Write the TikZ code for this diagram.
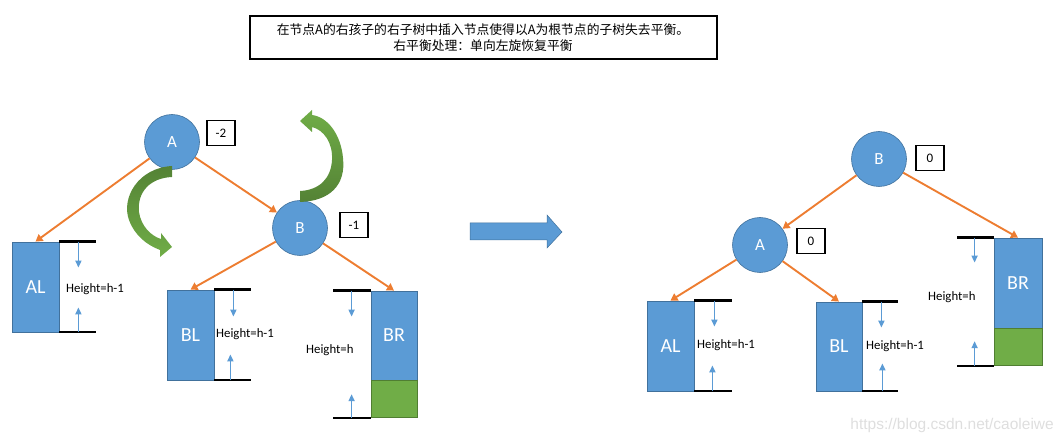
\documentclass[tikz,border=0pt]{standalone}
\usepackage{fontspec}
\setmainfont{Carlito}
\newfontfamily\cjk{Noto Sans CJK SC}
\newfontfamily\wmfont{Liberation Sans}
\usetikzlibrary{arrows.meta}
\definecolor{nblue}{HTML}{5B9BD5}
\definecolor{nbord}{HTML}{41719C}
\definecolor{eorange}{HTML}{ED7D31}
\definecolor{glight}{HTML}{70AD47}
\definecolor{gdark}{HTML}{548235}
\definecolor{gbord}{HTML}{507E32}
\tikzset{
  tnode/.style={circle, fill=nblue, draw=nbord, line width=0.6pt, minimum size=55pt, inner sep=0pt, text=white, font=\fontsize{17}{19}\selectfont},
  bfbox/.style={draw=black, line width=1.9pt, minimum width=28pt, minimum height=25pt, inner sep=0pt, font=\fontsize{13}{15}\selectfont},
  subtree/.style={rectangle, fill=nblue, draw=nbord, line width=0.8pt, inner sep=0pt, text=white, font=\fontsize{20}{22}\selectfont},
  grn/.style={rectangle, fill=glight, draw=gbord, line width=0.8pt, inner sep=0pt},
  edge/.style={draw=eorange, line width=1.9pt, -{Triangle[width=8pt,length=7pt]}},
  hline/.style={line width=2.2pt, black},
  harrow/.style={nblue, line width=1.7pt, -{Triangle[width=6pt,length=7pt]}},
  hlabel/.style={anchor=west, font=\fontsize{12.8}{14}\selectfont, inner sep=0pt},
}
\begin{document}
\begin{tikzpicture}[x=1pt,y=-1pt]
\useasboundingbox (0,0) rectangle (1063,443);

% title
\node[draw=black, line width=2pt, minimum width=467pt, minimum height=43pt, inner sep=0pt, align=center, font=\cjk\fontsize{12.8}{16}\selectfont] (title) at (483,38)
  {在节点A的右孩子的右子树中插入节点使得以A为根节点的子树失去平衡。\\右平衡处理：单向左旋恢复平衡};

% ---------- left tree ----------
\node[tnode] (A1) at (172,142) {A};
\node[bfbox] (bA1) at (221,133) {-2};
\node[tnode] (B1) at (300,228) {B};
\node[bfbox] (bB1) at (354,225) {-1};

\node[subtree, minimum width=47pt, minimum height=90pt] (AL1) at (35.5,287) {AL};
\node[subtree, minimum width=47pt, minimum height=90pt] (BL1) at (190.5,335) {BL};
\node[subtree, minimum width=46pt, minimum height=89pt] (BR1) at (394,335.5) {BR};
\node[grn, anchor=north, minimum width=46pt, minimum height=37pt] (G1) at (BR1.south) {};

\draw[edge] (A1) -- (AL1.north);
\draw[edge] (A1) -- (B1);
\draw[edge] (B1) -- (BL1.north);
\draw[edge] (B1) -- (BR1.north);

% heights left
\draw[hline] (AL1.north east) -- ++(37,0);
\draw[hline] (AL1.south east) -- ++(37,0);
\draw[harrow] ([xshift=19pt]AL1.north east) -- ++(0,26);
\draw[harrow] ([xshift=19pt]AL1.south east) -- ++(0,-25);
\node[hlabel] (hAL1) at (66,289) {Height=h-1};

\draw[hline] (BL1.north east) -- ++(37,0);
\draw[hline] (BL1.south east) -- ++(37,0);
\draw[harrow] ([xshift=19pt]BL1.north east) -- ++(0,27);
\draw[harrow] ([xshift=16pt]BL1.south east) -- ++(0,-26);
\node[hlabel] (hBL1) at (216,334) {Height=h-1};

\draw[hline] (BR1.north west) -- ++(-38,0);
\draw[hline] (G1.south west) -- ++(-38,0);
\draw[harrow] ([xshift=-19pt]BR1.north west) -- ++(0,26);
\draw[harrow] ([xshift=-19pt]G1.south west) -- ++(0,-24);
\node[hlabel] (hBR1) at (306,350) {Height=h};

% curved green arrows
\shade[top color=gdark, bottom color=glight]
  (172,166) .. controls (138,168) and (121,198) .. (129,220)
  .. controls (135,236) and (147,245) .. (160,250)
  -- (160,257) -- (172,247) -- (161,233) -- (161,239)
  .. controls (151,236) and (141,226) .. (139,212)
  .. controls (137,192) and (150,178) .. (172,177) -- cycle;
\shade[top color=glight, bottom color=gdark]
  (300,202) .. controls (330,201) and (346,185) .. (343,158)
  .. controls (341,135) and (328,117) .. (312,115)
  -- (312,110) -- (300,121) -- (312,132) -- (312,127)
  .. controls (324,130) and (333,143) .. (332,160)
  .. controls (331,178) and (320,190) .. (300,191) -- cycle;

% big arrow
\draw[fill=nblue, draw=nbord, line width=0.5pt] (470,223) -- (547,223) -- (547,215) -- (562,232) -- (547,248) -- (547,240) -- (470,240) -- cycle;

% ---------- right tree ----------
\node[tnode] (B2) at (879,159) {B};
\node[bfbox] (bB2) at (930,158) {0};
\node[tnode] (A2) at (760,245) {A};
\node[bfbox] (bA2) at (811,241) {0};

\node[subtree, minimum width=47pt, minimum height=90pt] (AL2) at (670.5,346) {AL};
\node[subtree, minimum width=46pt, minimum height=89pt] (BL2) at (839,346.5) {BL};
\node[subtree, minimum width=48pt, minimum height=90pt] (BR2) at (1018,283) {BR};
\node[grn, anchor=north, minimum width=48pt, minimum height=37pt] (G2) at (BR2.south) {};

\draw[edge] (B2) -- (A2);
\draw[edge] (B2) -- (BR2.north);
\draw[edge] (A2) -- (AL2.north);
\draw[edge] (A2) -- (BL2.north);

\draw[hline] (AL2.north east) -- ++(38,0);
\draw[hline] (AL2.south east) -- ++(38,0);
\draw[harrow] ([xshift=20pt]AL2.north east) -- ++(0,26);
\draw[harrow] ([xshift=18pt]AL2.south east) -- ++(0,-26);
\node[hlabel] (hAL2) at (697,345) {Height=h-1};

\draw[hline] (BL2.north east) -- ++(36,0);
\draw[hline] (BL2.south east) -- ++(36,0);
\draw[harrow] ([xshift=19pt]BL2.north east) -- ++(0,26);
\draw[harrow] ([xshift=20pt]BL2.south east) -- ++(0,-28);
\node[hlabel] (hBL2) at (866,346) {Height=h-1};

\draw[hline] (BR2.north west) -- ++(-37,0);
\draw[hline] (G2.south west) -- ++(-37,0);
\draw[harrow] ([xshift=-19pt]BR2.north west) -- ++(0,25);
\draw[harrow] ([xshift=-19pt]G2.south west) -- ++(0,-25);
\node[hlabel] (hBR2) at (928,297) {Height=h};

% watermark
\node[text=black!13, font=\wmfont\fontsize{15.5}{17}\selectfont, anchor=east, inner sep=0pt] (wm) at (1054,425) {https://blog.csdn.net/caoleiwe};
\end{tikzpicture}
\end{document}
